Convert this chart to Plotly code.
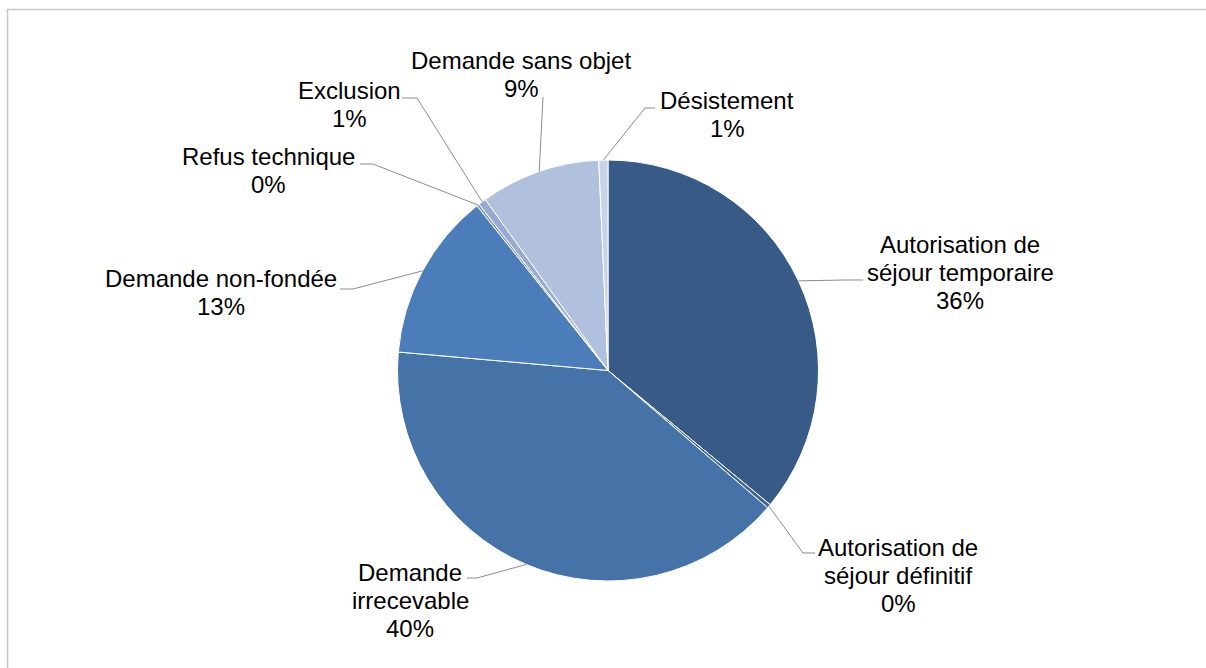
import math
import plotly.graph_objects as go

# ---- data ----
categories = [
    "Autorisation de séjour temporaire",
    "Autorisation de séjour définitif",
    "Demande irrecevable",
    "Demande non-fondée",
    "Refus technique",
    "Exclusion",
    "Demande sans objet",
    "Désistement",
]
label_lines = [
    ["Autorisation de", "séjour temporaire"],
    ["Autorisation de", "séjour définitif"],
    ["Demande", "irrecevable"],
    ["Demande non-fondée"],
    ["Refus technique"],
    ["Exclusion"],
    ["Demande sans objet"],
    ["Désistement"],
]
values = [36.0, 0.3, 40.1, 12.9, 0.2, 0.6, 9.2, 0.7]

# ---- style / layout ----
colors = ["#375a87", "#3d659a", "#4572a7", "#4a7db9", "#7a95c5", "#96aad3", "#b0c0dd", "#c7d3e9"]
W, H = 1206, 668
CX, CY, R = 608.0, 370.5, 210.5
FONT = "Liberation Sans, Arial, sans-serif"
FS = 24
LINE_H = 28

# label centres (px) and leader knee/tip points (px)
label_pos = [(960, 272), (898, 575), (410, 600), (221, 292), (268, 171), (349, 104), (521, 74), (727, 115)]
leader_pts = [
    [(845, 280), (863, 280)],
    [(803, 553), (815, 553)],
    [(477, 578), (467, 578)],
    [(353, 289), (340, 289)],
    [(373, 164), (360, 164)],
    [(417, 98), (402, 98)],
    [(543, 97)],
    [(645, 108), (655, 108)],
]


def px(x):
    return x / W


def py(y):
    return 1 - y / H


fig = go.Figure()
fig.add_trace(go.Pie(
    labels=categories,
    values=values,
    sort=False,
    direction="clockwise",
    rotation=0,
    textinfo="none",
    hoverinfo="label+percent",
    marker=dict(colors=colors, line=dict(color="#ffffff", width=1)),
    domain=dict(x=[px(CX - R), px(CX + R)], y=[py(CY + R), py(CY - R)]),
    showlegend=False,
))

total = sum(values)
shapes = []
annotations = []
cum = 0.0
for i, v in enumerate(values):
    mid = (cum + v / 2) / total
    cum += v
    th = 2 * math.pi * mid
    ex = CX + R * math.sin(th)
    ey = CY - R * math.cos(th)
    pts = [(ex, ey)] + leader_pts[i]
    path = "M " + " L ".join(f"{px(a):.5f},{py(b):.5f}" for a, b in pts)
    shapes.append(dict(type="path", path=path, xref="paper", yref="paper",
                       line=dict(color="#8c8c8c", width=1)))
    pct = f"{round(v / total * 100):d}%"
    lines = label_lines[i] + [pct]
    lx, ly = label_pos[i]
    n = len(lines)
    for j, t in enumerate(lines):
        yy = ly + (j - (n - 1) / 2) * LINE_H
        annotations.append(dict(text=t, x=px(lx), y=py(yy), xref="paper", yref="paper",
                                showarrow=False, xanchor="center", yanchor="middle",
                                font=dict(family=FONT, size=FS, color="#000000")))

# chart frame (only left and top edges visible, cropped at right/bottom)
frame = f"M {px(7.5):.5f},{py(H + 20):.5f} L {px(7.5):.5f},{py(9.5):.5f} L {px(W + 20):.5f},{py(9.5):.5f}"
shapes.append(dict(type="path", xref="paper", yref="paper", path=frame,
                   line=dict(color="#c8c8c8", width=1.5)))

fig.update_layout(
    width=W, height=H,
    margin=dict(l=0, r=0, t=0, b=0),
    paper_bgcolor="#ffffff",
    plot_bgcolor="#ffffff",
    shapes=shapes,
    annotations=annotations,
    showlegend=False,
)

fig.write_html(
    "out.html",
    config={"displayModeBar": False},
    post_script="document.body.style.margin='0';document.body.style.overflow='hidden';",
)
